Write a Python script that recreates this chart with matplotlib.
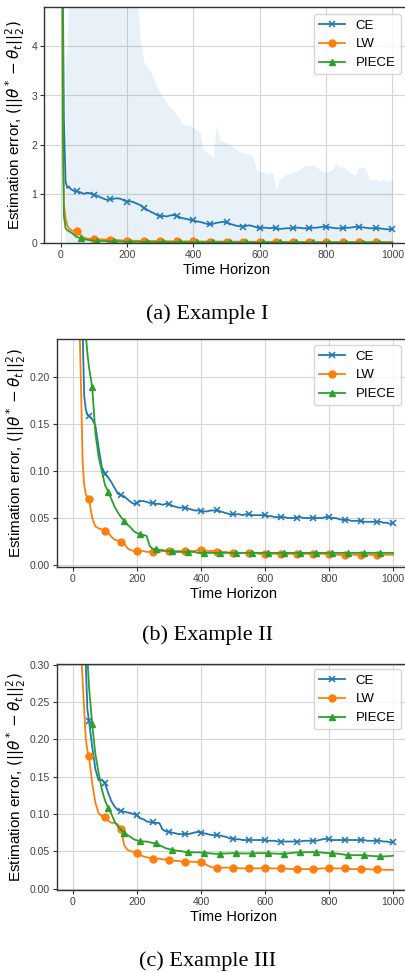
import numpy as np
import matplotlib
matplotlib.use("Agg")
import matplotlib.pyplot as plt

# common time grid: dense at the start, then every 10 steps
t_early = [1, 2, 3, 5, 7, 10, 15, 20, 25, 30, 35, 40, 45]
t = np.array(t_early + list(range(50, 1001, 10)))

# ---------------- Example I ----------------
ce_a = [60, 30, 15, 8, 5, 2.5, 1.25, 1.12, 1.15, 1.1, 1.08, 1.06, 1.05,
        1.05, 1.03, 1.0, 1.02, 1.01, 0.98, 0.96, 0.93, 0.9, 0.88,
        0.89, 0.9, 0.91, 0.9, 0.87, 0.84, 0.85, 0.83, 0.8, 0.77,
        0.72, 0.68, 0.64, 0.61, 0.57, 0.54, 0.55, 0.54, 0.56, 0.57,
        0.55, 0.52, 0.5, 0.49, 0.47, 0.46, 0.44, 0.43, 0.41, 0.39,
        0.38, 0.39, 0.41, 0.42, 0.43, 0.42, 0.39, 0.37, 0.35, 0.34,
        0.33, 0.35, 0.36, 0.34, 0.32, 0.30, 0.31, 0.31, 0.30, 0.31,
        0.30, 0.29, 0.29, 0.30, 0.30, 0.30, 0.31, 0.31, 0.30, 0.30,
        0.30, 0.31, 0.31, 0.32, 0.33, 0.33, 0.32, 0.31, 0.30, 0.30,
        0.30, 0.31, 0.31, 0.32, 0.33, 0.32, 0.32, 0.31, 0.30, 0.30,
        0.30, 0.30, 0.29, 0.28, 0.28, 0.28]
ce_a_upper = [np.nan, np.nan, np.nan, np.nan, np.nan, np.nan, 3.85, 3.9, 6.0, 6.0, 6.0, 6.0, 6.0,
              6.0, 6.0, 6.0, 6.0, 6.0, 6.0, 6.0, 6.0, 6.0, 6.0,
              6.0, 6.0, 6.0, 6.0, 6.0, 6.0, 6.0, 6.0, 4.9, 4.2,
              3.7, 3.6, 3.5, 3.35, 3.2, 3.05, 2.95, 2.85, 2.75, 2.7,
              2.6, 2.5, 2.42, 2.4, 2.4, 2.35, 2.3, 2.25, 1.9, 1.85,
              1.8, 1.75, 2.4, 2.1, 2.05, 2.05, 2.0, 1.95, 1.9, 1.85,
              1.85, 1.8, 1.8, 1.75, 1.5, 1.45, 1.45, 1.4, 1.45, 1.4,
              1.1, 1.3, 1.35, 1.4, 1.4, 1.45, 1.45, 1.5, 1.55, 1.6,
              1.55, 1.6, 1.55, 1.5, 1.45, 1.45, 1.45, 1.5, 1.62, 1.55,
              1.55, 1.5, 1.45, 1.4, 1.4, 1.55, 1.55, 1.5, 1.3, 1.28,
              1.3, 1.25, 1.3, 1.28, 1.25, 1.3]
lw_a = [80, 40, 20, 6, 2.0, 0.8, 0.5, 0.36, 0.3, 0.27, 0.25, 0.25, 0.24,
        0.24, 0.16, 0.11, 0.09, 0.085, 0.08, 0.08, 0.075, 0.072, 0.07,
        0.07, 0.065, 0.06, 0.055, 0.05, 0.05, 0.048, 0.046, 0.045, 0.044,
        0.043, 0.042, 0.041, 0.04, 0.04, 0.039, 0.038, 0.037, 0.036, 0.035,
        0.035, 0.034, 0.034, 0.033, 0.033, 0.032, 0.032, 0.031, 0.031, 0.03,
        0.03, 0.03, 0.029, 0.029, 0.028, 0.028, 0.028, 0.027, 0.027, 0.027,
        0.026, 0.026, 0.026, 0.025, 0.025, 0.025, 0.025, 0.024, 0.024, 0.024,
        0.024, 0.023, 0.023, 0.023, 0.023, 0.023, 0.022, 0.022, 0.022, 0.022,
        0.022, 0.022, 0.021, 0.021, 0.021, 0.021, 0.021, 0.021, 0.020, 0.020,
        0.020, 0.020, 0.020, 0.020, 0.020, 0.019, 0.019, 0.019, 0.019, 0.019,
        0.019, 0.019, 0.019, 0.018, 0.018, 0.018]
piece_a = [90, 45, 25, 8, 2.5, 0.55, 0.3, 0.26, 0.24, 0.22, 0.2, 0.17, 0.14,
           0.12, 0.1, 0.08, 0.065, 0.055, 0.05, 0.045, 0.042, 0.04, 0.038,
           0.036, 0.034, 0.032, 0.03, 0.029, 0.028, 0.027, 0.026, 0.025, 0.024,
           0.023, 0.022, 0.021, 0.021, 0.02, 0.02, 0.019, 0.019, 0.018, 0.018,
           0.017, 0.017, 0.017, 0.016, 0.016, 0.016, 0.015, 0.015, 0.015, 0.015,
           0.014, 0.014, 0.014, 0.014, 0.014, 0.013, 0.013, 0.013, 0.013, 0.013,
           0.013, 0.012, 0.012, 0.012, 0.012, 0.012, 0.012, 0.012, 0.011, 0.011,
           0.011, 0.011, 0.011, 0.011, 0.011, 0.011, 0.011, 0.011, 0.011, 0.011,
           0.011, 0.011, 0.010, 0.010, 0.010, 0.010, 0.010, 0.010, 0.010, 0.010,
           0.010, 0.010, 0.010, 0.010, 0.010, 0.010, 0.010, 0.010, 0.010, 0.010,
           0.010, 0.010, 0.010, 0.010, 0.010, 0.010]

# ---------------- Example II ----------------
ce_b = [5.0, 3.0, 2.0, 1.2, 0.9, 0.6, 0.45, 0.35, 0.3, 0.25, 0.18, 0.165, 0.16,
        0.158, 0.155, 0.148, 0.125, 0.104, 0.097, 0.093, 0.088, 0.082, 0.076,
        0.074, 0.073, 0.07, 0.067, 0.065, 0.066, 0.068, 0.068, 0.067, 0.066,
        0.066, 0.065, 0.065, 0.064, 0.065, 0.065, 0.063, 0.062, 0.061, 0.061,
        0.061, 0.06, 0.059, 0.058, 0.058, 0.0575, 0.057, 0.057, 0.058, 0.058,
        0.058, 0.057, 0.056, 0.055, 0.054, 0.054, 0.054, 0.054, 0.053, 0.054,
        0.054, 0.053, 0.053, 0.053, 0.053, 0.053, 0.052, 0.052, 0.051, 0.051,
        0.051, 0.051, 0.050, 0.050, 0.050, 0.050, 0.051, 0.050, 0.050, 0.050,
        0.050, 0.050, 0.050, 0.050, 0.051, 0.051, 0.050, 0.050, 0.049, 0.048,
        0.048, 0.048, 0.047, 0.047, 0.047, 0.047, 0.046, 0.046, 0.046, 0.046,
        0.046, 0.046, 0.045, 0.045, 0.044, 0.045]
lw_b = [5.0, 3.0, 1.5, 0.9, 0.6, 0.45, 0.35, 0.26, 0.19, 0.11, 0.085, 0.075, 0.072,
        0.070, 0.050, 0.041, 0.039, 0.038, 0.036, 0.034, 0.030, 0.027, 0.026,
        0.025, 0.023, 0.018, 0.016, 0.015, 0.015, 0.015, 0.015, 0.014, 0.014,
        0.014, 0.014, 0.014, 0.015, 0.015, 0.015, 0.015, 0.015, 0.015, 0.015,
        0.015, 0.015, 0.015, 0.015, 0.016, 0.016, 0.016, 0.015, 0.015, 0.015,
        0.014, 0.014, 0.014, 0.014, 0.013, 0.013, 0.013, 0.013, 0.013, 0.013,
        0.013, 0.013, 0.013, 0.012, 0.012, 0.012, 0.012, 0.012, 0.012, 0.012,
        0.012, 0.012, 0.012, 0.012, 0.012, 0.012, 0.012, 0.012, 0.012, 0.012,
        0.012, 0.012, 0.012, 0.012, 0.012, 0.012, 0.011, 0.011, 0.011, 0.011,
        0.011, 0.011, 0.011, 0.011, 0.011, 0.011, 0.011, 0.011, 0.011, 0.011,
        0.011, 0.011, 0.011, 0.011, 0.011, 0.011]
piece_b = [6.0, 4.0, 2.5, 1.5, 1.0, 0.8, 0.6, 0.5, 0.42, 0.36, 0.3, 0.245, 0.225,
           0.21, 0.189, 0.14, 0.115, 0.1, 0.085, 0.078, 0.07, 0.062, 0.056,
           0.051, 0.047, 0.043, 0.04, 0.036, 0.034, 0.033, 0.032, 0.031, 0.02,
           0.017, 0.017, 0.016, 0.016, 0.015, 0.015, 0.015, 0.014, 0.014, 0.014,
           0.014, 0.014, 0.014, 0.014, 0.013, 0.013, 0.013, 0.013, 0.013, 0.013,
           0.013, 0.013, 0.013, 0.013, 0.013, 0.013, 0.013, 0.013, 0.013, 0.013,
           0.013, 0.013, 0.013, 0.013, 0.013, 0.013, 0.013, 0.013, 0.013, 0.013,
           0.013, 0.013, 0.013, 0.013, 0.013, 0.013, 0.013, 0.013, 0.013, 0.013,
           0.013, 0.013, 0.013, 0.013, 0.013, 0.013, 0.013, 0.013, 0.013, 0.013,
           0.013, 0.013, 0.013, 0.013, 0.013, 0.013, 0.013, 0.013, 0.013, 0.013,
           0.013, 0.013, 0.013, 0.013, 0.013, 0.013]

# ---------------- Example III ----------------
ce_c = [5.0, 3.0, 2.0, 1.2, 0.9, 0.7, 0.55, 0.45, 0.4, 0.36, 0.33, 0.30, 0.24,
        0.225, 0.19, 0.16, 0.145, 0.146, 0.141, 0.128, 0.117, 0.11, 0.105,
        0.104, 0.103, 0.102, 0.101, 0.0997, 0.098, 0.094, 0.093, 0.09, 0.089,
        0.0885, 0.088, 0.0876, 0.079, 0.0765, 0.076, 0.075, 0.074, 0.073, 0.073,
        0.073, 0.073, 0.074, 0.075, 0.076, 0.075, 0.074, 0.073, 0.072, 0.0715,
        0.0715, 0.071, 0.07, 0.069, 0.067, 0.067, 0.066, 0.066, 0.065, 0.065,
        0.065, 0.065, 0.065, 0.065, 0.065, 0.065, 0.064, 0.064, 0.064, 0.063,
        0.063, 0.063, 0.063, 0.063, 0.063, 0.063, 0.063, 0.064, 0.064, 0.064,
        0.064, 0.064, 0.065, 0.066, 0.0666, 0.066, 0.065, 0.065, 0.065, 0.065,
        0.065, 0.065, 0.065, 0.065, 0.065, 0.065, 0.065, 0.064, 0.064, 0.064,
        0.064, 0.064, 0.063, 0.063, 0.062, 0.062]
lw_c = [5.0, 3.0, 2.0, 1.2, 0.8, 0.6, 0.48, 0.4, 0.32, 0.28, 0.24, 0.2, 0.185,
        0.177, 0.141, 0.115, 0.101, 0.097, 0.0957, 0.091, 0.088, 0.088, 0.086,
        0.080, 0.058, 0.052, 0.050, 0.049, 0.047, 0.045, 0.043, 0.042, 0.041,
        0.040, 0.040, 0.040, 0.039, 0.039, 0.0385, 0.038, 0.037, 0.037, 0.036,
        0.036, 0.036, 0.036, 0.0355, 0.0355, 0.0353, 0.034, 0.031, 0.029, 0.028,
        0.0277, 0.0278, 0.028, 0.028, 0.028, 0.028, 0.0275, 0.0272, 0.027, 0.027,
        0.027, 0.027, 0.027, 0.027, 0.0275, 0.0277, 0.0275, 0.027, 0.027, 0.027,
        0.027, 0.027, 0.0265, 0.0262, 0.026, 0.026, 0.026, 0.026, 0.026, 0.026,
        0.026, 0.026, 0.0265, 0.027, 0.027, 0.027, 0.027, 0.027, 0.027, 0.027,
        0.027, 0.0265, 0.026, 0.026, 0.026, 0.026, 0.026, 0.026, 0.0255, 0.0255,
        0.0255, 0.0255, 0.0252, 0.025, 0.025, 0.025]
piece_c = [6.0, 4.0, 2.5, 1.5, 1.1, 0.8, 0.65, 0.55, 0.48, 0.42, 0.38, 0.34, 0.31,
           0.27, 0.22, 0.18, 0.155, 0.133, 0.118, 0.108, 0.1, 0.09, 0.083,
           0.0787, 0.075, 0.072, 0.069, 0.066, 0.0644, 0.064, 0.063, 0.063, 0.062,
           0.061, 0.0605, 0.058, 0.056, 0.054, 0.0528, 0.052, 0.051, 0.0505, 0.050,
           0.049, 0.0487, 0.0485, 0.0485, 0.0485, 0.0483, 0.048, 0.0475, 0.047, 0.0467,
           0.0465, 0.0467, 0.047, 0.047, 0.0472, 0.0474, 0.0474, 0.0472, 0.047, 0.047,
           0.047, 0.047, 0.0472, 0.0474, 0.0474, 0.0474, 0.0472, 0.047, 0.0468, 0.0467,
           0.0465, 0.0467, 0.047, 0.0475, 0.048, 0.0483, 0.0483, 0.0485, 0.0487, 0.0487,
           0.0487, 0.0487, 0.0485, 0.048, 0.0477, 0.0474, 0.047, 0.047, 0.0465, 0.046,
           0.0452, 0.0447, 0.0447, 0.0447, 0.0447, 0.0447, 0.0445, 0.044, 0.0438, 0.0435,
           0.0432, 0.043, 0.043, 0.0432, 0.0435, 0.044]

captions = ["(a) Example I", "(b) Example II", "(c) Example III"]
ylims = [(0, 4.8), (-0.002, 0.24), (-0.002, 0.301)]
yticks = [[0, 1, 2, 3, 4],
          [0.0, 0.05, 0.10, 0.15, 0.20],
          [0.0, 0.05, 0.10, 0.15, 0.20, 0.25, 0.30]]
ytick_fmt = ["{:.0f}", "{:.2f}", "{:.2f}"]

for arr in [ce_a, ce_a_upper, lw_a, piece_a, ce_b, lw_b, piece_b, ce_c, lw_c, piece_c]:
    assert len(arr) == len(t), len(arr)

plt.rcParams['font.family'] = ['Liberation Sans', 'DejaVu Sans']
plt.rcParams['axes.edgecolor'] = '#333333'
plt.rcParams['axes.linewidth'] = 1.0
plt.rcParams['xtick.color'] = '#333333'
plt.rcParams['ytick.color'] = '#333333'
plt.rcParams['xtick.labelcolor'] = '#404040'
plt.rcParams['ytick.labelcolor'] = '#404040'

C_CE, C_LW, C_PC = '#1f77b4', '#ff7f0e', '#2ca02c'

mk_ce = [i for i, v in enumerate(t) if v % 50 == 0 and v >= 50]
mk_lw = [i for i, v in enumerate(t) if v % 50 == 0 and 50 <= v < 1000]
mk_pc = [i for i, v in enumerate(t) if v % 50 == 10 and v >= 60]

fig = plt.figure(figsize=(4.06, 9.72), dpi=100)
W, H = 406.0, 972.0
# axes boxes in pixels: left, top, right, bottom
boxes = [(44, 7, 409, 243), (57, 339, 409, 567), (57, 664, 409, 890)]
ylab_right = [27, 28, 28]
cap_y = [314, 635, 961]
leg_y = [14, 345, 669]

panels = [(ce_a, lw_a, piece_a), (ce_b, lw_b, piece_b), (ce_c, lw_c, piece_c)]

for k, (ce, lw, pc) in enumerate(panels):
    l, tp, r, b = boxes[k]
    ax = fig.add_axes([l / W, 1 - b / H, (r - l) / W, (b - tp) / H])
    ax.grid(True, color='#d5d5d5', lw=0.8)
    ax.set_axisbelow(True)
    if k == 0:
        ax.fill_between(t, ce_a_upper, color=C_CE, alpha=0.1, lw=0)
    ax.plot(t, ce, color=C_CE, lw=1.3, marker='x', ms=5, mew=1.1, markevery=mk_ce, label='CE')
    ax.plot(t, lw, color=C_LW, lw=1.3, marker='o', ms=5, markevery=mk_lw, label='LW')
    ax.plot(t, pc, color=C_PC, lw=1.3, marker='^', ms=5, markevery=mk_pc, label='PIECE')
    ax.set_xlim(-50, 1050)
    ax.set_ylim(*ylims[k])
    ax.set_xticks([0, 200, 400, 600, 800, 1000])
    ax.set_yticks(yticks[k])
    ax.set_yticklabels([ytick_fmt[k].format(v) for v in yticks[k]])
    ax.tick_params(labelsize=7.5, length=3, width=0.8, pad=2)
    ax.set_xlabel("Time Horizon", fontsize=10.5, labelpad=2)
    ax.set_ylabel(r"Estimation error, $(||\theta^* - \theta_t||_2^2)$", fontsize=11)
    ax.yaxis.set_label_coords((ylab_right[k] - l) / (r - l), 0.5)
    leg = ax.legend(loc='upper right', bbox_to_anchor=(401 / W, 1 - leg_y[k] / H),
                    bbox_transform=fig.transFigure, fontsize=9.5, borderaxespad=0,
                    handlelength=2.0, framealpha=0.8, edgecolor='#cccccc')
    fig.text(0.511, 1 - cap_y[k] / H, captions[k], ha='center', va='center',
             fontsize=16, family='Liberation Serif')

fig.savefig("out.png", dpi=100)
